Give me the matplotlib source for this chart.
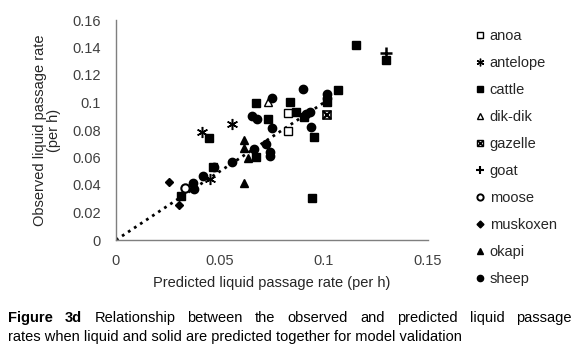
import matplotlib
matplotlib.use("Agg")
import matplotlib.pyplot as plt
from matplotlib.lines import Line2D

plt.rcParams['font.family'] = ['Liberation Sans', 'DejaVu Sans']

# ---- data (predicted, observed) ----
anoa_x = [0.0825, 0.0827]
anoa_y = [0.0925, 0.0790]
antelope_x = [0.0412, 0.0556, 0.0450]
antelope_y = [0.0783, 0.0844, 0.0443]
cattle_x = [0.0672, 0.0838, 0.1066, 0.1154, 0.1300, 0.0865, 0.0905, 0.0953,
            0.0729, 0.0447, 0.0673, 0.0940, 0.0313, 0.0468, 0.1013]
cattle_y = [0.0998, 0.1002, 0.1088, 0.1419, 0.1309, 0.0930, 0.0893, 0.0746,
            0.0880, 0.0740, 0.0607, 0.0303, 0.0318, 0.0534, 0.1003]
dikdik_x = [0.0732]
dikdik_y = [0.1003]
gazelle_x = [0.1016]
gazelle_y = [0.0911]
goat_x = [0.1300]
goat_y = [0.1358]
moose_x = [0.0333]
moose_y = [0.0375]
muskoxen_x = [0.0255, 0.0304]
muskoxen_y = [0.0420, 0.0255]
okapi_x = [0.0615, 0.0615, 0.0633, 0.0615]
okapi_y = [0.0725, 0.0668, 0.0595, 0.0413]
sheep_x = [0.0748, 0.0897, 0.1013, 0.1013, 0.0655, 0.0680, 0.0748, 0.0913,
           0.0933, 0.0938, 0.0665, 0.0722, 0.0740, 0.0740, 0.0556, 0.0470,
           0.0420, 0.0370, 0.0375]
sheep_y = [0.1030, 0.1100, 0.1064, 0.1033, 0.0905, 0.0880, 0.0812, 0.0915,
           0.0930, 0.0822, 0.0665, 0.0697, 0.0611, 0.0640, 0.0568, 0.0530,
           0.0462, 0.0418, 0.0372]
line_x = [0.0, 0.1]
line_y = [0.0, 0.1]

x_ticks = [0, 0.05, 0.1, 0.15]
x_tick_labels = ['0', '0.05', '0.1', '0.15']
y_ticks = [0, 0.02, 0.04, 0.06, 0.08, 0.1, 0.12, 0.14, 0.16]
y_tick_labels = ['0', '0.02', '0.04', '0.06', '0.08', '0.1', '0.12', '0.14', '0.16']

W, H = 580, 363
fig = plt.figure(figsize=(W / 100, H / 100), dpi=100)
ax = fig.add_axes([116 / W, 1 - 240 / H, (428 - 116) / W, (240 - 20) / H])

ax.plot(line_x, line_y, color='black', linestyle=(0, (1, 1.6)), linewidth=2, zorder=1)

k = 'black'
ms = 6
ax.plot(anoa_x, anoa_y, 's', ms=ms, mfc='white', mec=k, mew=1, ls='none', zorder=3)
ax.plot(antelope_x, antelope_y, marker=(6, 2, 0), ms=8, mec=k, mew=1.1, ls='none', zorder=3)
ax.plot(cattle_x, cattle_y, 's', ms=ms, mfc=k, mec=k, ls='none', zorder=3)
ax.plot(dikdik_x, dikdik_y, '^', ms=ms, mfc='white', mec=k, mew=1, ls='none', zorder=3)
ax.plot(gazelle_x, gazelle_y, 's', ms=ms, mfc='white', mec=k, mew=1.2, ls='none', zorder=3)
ax.plot(gazelle_x, gazelle_y, 'x', ms=ms * 0.85, mec=k, mew=1.6, ls='none', zorder=4)
ax.plot(goat_x, goat_y, '+', ms=8, mec=k, mew=1.8, ls='none', zorder=4)
ax.plot(moose_x, moose_y, 'o', ms=ms, mfc='white', mec=k, mew=1.5, ls='none', zorder=4)
ax.plot(muskoxen_x, muskoxen_y, 'D', ms=4.5, mfc=k, mec=k, ls='none', zorder=3)
ax.plot(okapi_x, okapi_y, '^', ms=ms, mfc=k, mec=k, ls='none', zorder=3)
ax.plot(sheep_x, sheep_y, 'o', ms=ms, mfc=k, mec=k, ls='none', zorder=3)

ax.set_xlim(0, 0.15)
ax.set_ylim(0, 0.16)
ax.set_xticks(x_ticks)
ax.set_xticklabels(x_tick_labels)
ax.set_yticks(y_ticks)
ax.set_yticklabels(y_tick_labels)
ax.tick_params(axis='both', length=0, labelsize=10.5, colors='#404040')
ax.tick_params(axis='y', pad=11)
ax.tick_params(axis='x', pad=10)
for s in ['top', 'right']:
    ax.spines[s].set_visible(False)
for s in ['left', 'bottom']:
    ax.spines[s].set_color('#7f7f7f')
    ax.spines[s].set_linewidth(1)

ax.set_xlabel('Predicted liquid passage rate (per h)', fontsize=10.5, color='#262626', labelpad=6)
ax.set_ylabel('Observed liquid passage rate\n(per h)', fontsize=10.5, color='#262626', labelpad=8,
              linespacing=1.0)

# legend
lms = 4.5
handles = [
    Line2D([], [], marker='s', ms=lms, mfc='white', mec=k, ls='none'),
    Line2D([], [], marker=(6, 2, 0), ms=lms + 1, mec=k, ls='none'),
    Line2D([], [], marker='s', ms=lms, mfc=k, mec=k, ls='none'),
    Line2D([], [], marker='^', ms=lms, mfc='white', mec=k, ls='none'),
    (Line2D([], [], marker='s', ms=lms, mfc='white', mec=k, ls='none'),
     Line2D([], [], marker='x', ms=lms * 0.8, mec=k, mew=1.2, ls='none')),
    Line2D([], [], marker='+', ms=lms + 1.5, mec=k, mew=1.5, ls='none'),
    Line2D([], [], marker='o', ms=lms, mfc='white', mec=k, mew=1.4, ls='none'),
    Line2D([], [], marker='D', ms=lms - 1, mfc=k, mec=k, ls='none'),
    Line2D([], [], marker='^', ms=lms, mfc=k, mec=k, ls='none'),
    Line2D([], [], marker='o', ms=lms, mfc=k, mec=k, ls='none'),
]
labels = ['anoa', 'antelope', 'cattle', 'dik-dik', 'gazelle', 'goat', 'moose',
          'muskoxen', 'okapi', 'sheep']
fig.legend(handles, labels, loc='upper left', bbox_to_anchor=(473 / W, 1 - 29 / H),
           frameon=False, fontsize=10.5, handlelength=0.9, handletextpad=0.25,
           labelspacing=0.89, borderpad=0, borderaxespad=0, labelcolor='#262626')

# caption (first line justified)
fig.canvas.draw()
renderer = fig.canvas.get_renderer()
line1 = [('Figure', 'bold'), ('3d', 'bold'), ('Relationship', 'normal'), ('between', 'normal'),
         ('the', 'normal'), ('observed', 'normal'), ('and', 'normal'), ('predicted', 'normal'),
         ('liquid', 'normal'), ('passage', 'normal')]
x0, x1 = 8, 572
base1 = H - 322
texts = []
for w, wt in line1:
    t = fig.text(0, base1 / H, w, fontsize=10.5, fontweight=wt, color='black', va='baseline')
    texts.append(t)
widths = [t.get_window_extent(renderer).width for t in texts]
gap = (x1 - x0 - sum(widths)) / (len(texts) - 1)
xp = x0
for t, wd in zip(texts, widths):
    t.set_x(xp / W)
    xp += wd + gap
fig.text(x0 / W, (H - 341) / H, 'rates when liquid and solid are predicted together for model validation',
         fontsize=10.5, color='black', va='baseline')

fig.savefig('out.png', dpi=100)
